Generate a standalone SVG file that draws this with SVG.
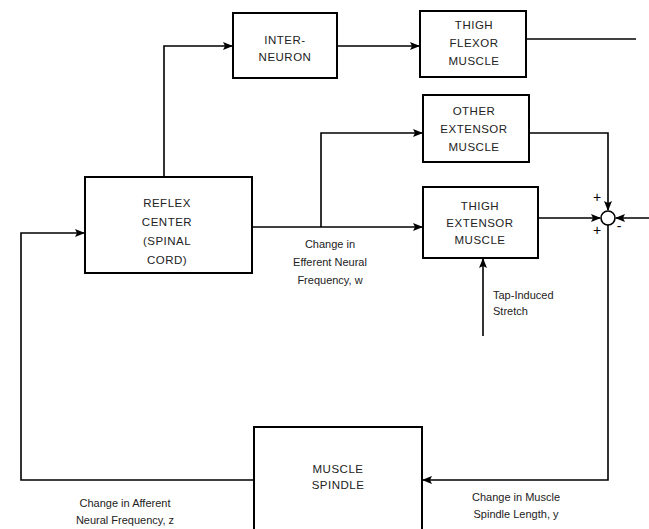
<svg xmlns="http://www.w3.org/2000/svg" width="649" height="529" viewBox="0 0 649 529">
<defs>
<marker id="ah" markerWidth="10" markerHeight="8" refX="9" refY="4" orient="auto" markerUnits="userSpaceOnUse">
<path d="M0,0 L10,4 L0,8 L2,4 Z" fill="#000"/>
</marker>
<style>
.box{fill:#fff;stroke:#000;stroke-width:2}
.ln{fill:none;stroke:#000;stroke-width:1.6}
.bt{font-family:"Liberation Sans",Arial,sans-serif;font-size:11.5px;text-anchor:middle;fill:#222;letter-spacing:0.5px}
.lt{font-family:"Liberation Sans",Arial,sans-serif;font-size:11px;text-anchor:middle;fill:#222}
.ls{font-family:"Liberation Sans",Arial,sans-serif;font-size:11px;text-anchor:start;fill:#222}
.sg{font-family:"Liberation Sans",Arial,sans-serif;font-size:14px;fill:#000;text-anchor:middle}
</style>
</defs>
<rect width="649" height="529" fill="#fff"/>
<g id="connectors">
<path class="ln" d="M164,177 V46 H232" marker-end="url(#ah)"/>
<path class="ln" d="M337,46 H419" marker-end="url(#ah)"/>
<path class="ln" d="M526,39 H636"/>
<path class="ln" d="M252,227 H422" marker-end="url(#ah)"/>
<path class="ln" d="M321,227 V133 H422" marker-end="url(#ah)"/>
<path class="ln" d="M529,133 H608 V210" marker-end="url(#ah)"/>
<path class="ln" d="M538,218 H600" marker-end="url(#ah)"/>
<path class="ln" d="M649,218 H616" marker-end="url(#ah)"/>
<path class="ln" d="M608,225 V480 H423" marker-end="url(#ah)"/>
<path class="ln" d="M253,480 H21 V233 H84" marker-end="url(#ah)"/>
<path class="ln" d="M483,336 V259" marker-end="url(#ah)"/>
<circle cx="608" cy="218" r="7" fill="#fff" stroke="#000" stroke-width="1.6"/>
<text class="sg" x="597" y="202">+</text>
<text class="sg" x="597" y="235">+</text>
<text class="sg" x="619" y="231">-</text>
</g>
<g id="interneuron">
<rect class="box" x="233" y="13" width="104" height="65"/>
<text class="bt" x="285" y="44">INTER-</text>
<text class="bt" x="285" y="61">NEURON</text>
</g>
<g id="thigh-flexor">
<rect class="box" x="420" y="11" width="106" height="66"/>
<text class="bt" x="474" y="29">THIGH</text>
<text class="bt" x="474" y="47">FLEXOR</text>
<text class="bt" x="474" y="65">MUSCLE</text>
</g>
<g id="reflex-center">
<rect class="box" x="85" y="177" width="167" height="96"/>
<text class="bt" x="167" y="207">REFLEX</text>
<text class="bt" x="167" y="226">CENTER</text>
<text class="bt" x="167" y="245">(SPINAL</text>
<text class="bt" x="167" y="264">CORD)</text>
</g>
<g id="other-extensor">
<rect class="box" x="423" y="95" width="106" height="67"/>
<text class="bt" x="474" y="115">OTHER</text>
<text class="bt" x="474" y="133">EXTENSOR</text>
<text class="bt" x="474" y="151">MUSCLE</text>
</g>
<g id="thigh-extensor">
<rect class="box" x="423" y="187" width="115" height="71"/>
<text class="bt" x="480" y="210">THIGH</text>
<text class="bt" x="480" y="227">EXTENSOR</text>
<text class="bt" x="480" y="244">MUSCLE</text>
</g>
<g id="muscle-spindle">
<rect class="box" x="254" y="427" width="168" height="110"/>
<text class="bt" x="338" y="473">MUSCLE</text>
<text class="bt" x="338" y="489">SPINDLE</text>
</g>
<g id="labels">
<text class="lt" x="330" y="248">Change in</text>
<text class="lt" x="330" y="266">Efferent Neural</text>
<text class="lt" x="330" y="284">Frequency, w</text>
<text class="ls" x="493" y="299">Tap-Induced</text>
<text class="ls" x="493" y="315">Stretch</text>
<text class="lt" x="516" y="501">Change in Muscle</text>
<text class="lt" x="516" y="518">Spindle Length, y</text>
<text class="lt" x="125" y="507">Change in Afferent</text>
<text class="lt" x="125" y="524">Neural Frequency, z</text>
</g>
</svg>
